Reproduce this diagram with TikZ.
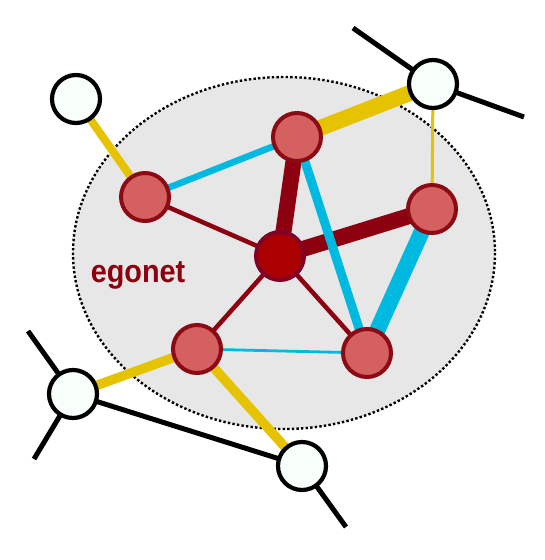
\documentclass[tikz,border=0pt]{standalone}
\usepackage{fontspec}
\setmainfont{Liberation Sans}
\usetikzlibrary{positioning}
\definecolor{egofill}{RGB}{170,0,0}
\definecolor{egoborder}{RGB}{128,0,40}
\definecolor{alterfill}{RGB}{212,96,96}
\definecolor{alterborder}{RGB}{140,10,20}
\definecolor{tieRed}{RGB}{140,0,15}
\definecolor{tieCyan}{RGB}{0,185,225}
\definecolor{tieYellow}{RGB}{230,195,0}
\definecolor{cloud}{RGB}{230,231,230}
\definecolor{outerfill}{RGB}{248,255,250}
\pgfdeclarelayer{back}
\pgfdeclarelayer{ties}
\pgfsetlayers{back,ties,main}

\begin{document}
\begin{tikzpicture}[x=1pt, y=-1pt,
    egonode/.style={circle, minimum size=48pt, inner sep=0pt, line width=4pt, draw=egoborder, fill=egofill},
    alter/.style={circle, minimum size=48pt, inner sep=0pt, line width=4pt, draw=alterborder, fill=alterfill},
    outer/.style={circle, minimum size=48pt, inner sep=0pt, line width=4.2pt, draw=black, fill=outerfill},
    redtie/.style={draw=tieRed},
    cyantie/.style={draw=tieCyan},
    yellowtie/.style={draw=tieYellow},
    blacktie/.style={draw=black, line width=5pt}]
    \useasboundingbox (0,0) rectangle (545,560);
    % egonet region
    \begin{pgfonlayer}{back}
        \draw[fill=cloud, line width=2.4pt, dash pattern=on 2.4pt off 2.2pt] (284,253) ellipse [x radius=211, y radius=176];
    \end{pgfonlayer}
    \node[font=\bfseries\fontsize{32}{32}\selectfont, text=tieRed, xscale=0.9, anchor=base] (label) at (138,282) {egonet};
    % ego and its neighbours
    \node[egonode] (ego) at (280,256) {};
    \node[alter] (top) at (297,137) {};
    \node[alter] (left) at (145,197) {};
    \node[alter] (right) at (432,209) {};
    \node[alter] (botleft) at (197,349) {};
    \node[alter] (botright) at (367,353) {};
    % nodes outside the egonet
    \node[outer] (outTL) at (76,99) {};
    \node[outer] (outTR) at (433,84) {};
    \node[outer] (outL) at (73,394) {};
    \node[outer] (outB) at (302,466) {};
    \coordinate (endTRa) at (353,28);
    \coordinate (endTRb) at (524,117);
    \coordinate (endLa) at (28,331);
    \coordinate (endLb) at (34,459);
    \coordinate (endB) at (346,527);
    \begin{pgfonlayer}{ties}
        \draw[redtie, line width=16pt] (ego.center) -- (top.center);
        \draw[redtie, line width=16pt] (ego.center) -- (right.center);
        \draw[redtie, line width=4.5pt] (ego.center) -- (left.center);
        \draw[redtie, line width=4.5pt] (ego.center) -- (botleft.center);
        \draw[redtie, line width=4.5pt] (ego.center) -- (botright.center);
        \draw[cyantie, line width=6.5pt] (left.center) -- (top.center);
        \draw[cyantie, line width=9pt] (top.center) -- (botright.center);
        \draw[cyantie, line width=16pt] (right.center) -- (botright.center);
        \draw[cyantie, line width=2.8pt] (botleft.center) -- (botright.center);
        \draw[yellowtie, line width=16pt] (top.center) -- (outTR.center);
        \draw[yellowtie, line width=3pt] (right.center) -- (outTR.center);
        \draw[yellowtie, line width=8pt] (left.center) -- (outTL.center);
        \draw[yellowtie, line width=9.5pt] (botleft.center) -- (outL.center);
        \draw[yellowtie, line width=9.5pt] (botleft.center) -- (outB.center);
        \draw[blacktie] (outL.center) -- (outB.center);
        \draw[blacktie] (endTRa) -- (outTR.center) -- (endTRb);
        \draw[blacktie] (endLa) -- (outL.center) -- (endLb);
        \draw[blacktie] (outB.center) -- (endB);
    \end{pgfonlayer}
\end{tikzpicture}
\end{document}
